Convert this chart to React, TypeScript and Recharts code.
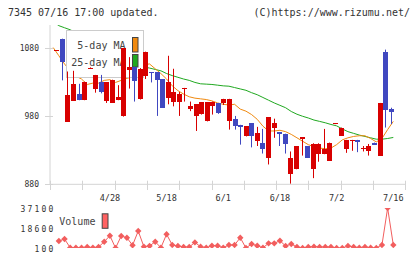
import React from 'react';
import { ComposedChart, Bar, Line, XAxis, YAxis, Legend } from 'recharts';

// Daily candles (61 sessions), oldest first
const opens = [1075, 1093, 972, 1002, 1012, 1003, 1049, 1020, 1030, 1001, 1000, 1003, 979, 1048, 1051, 1005, 1039, 1044, 1044, 1034, 1006, 1001, 1000, 1020, 989, 979, 982, 972, 995, 999, 999, 973, 976, 967, 950, 969, 944, 941, 918, 963, 956, 954, 894, 902, 946, 936, 902, 924, 924, 915, 968, 952, 932, 944, 945, 932, 928, 941, 922, 1074, 990];
const closes = [1076, 1060, 1011, 1027, 1003, 1030, 1050, 1040, 1015, 1029, 1033, 1008, 1079, 1052, 1031, 1049, 1074, 1042, 1032, 992, 1030, 1015, 1012, 1021, 994, 997, 1000, 1000, 1001, 985, 1005, 1005, 966, 964, 965, 950, 955, 932, 978, 970, 953, 940, 918, 936, 949, 919, 939, 939, 932, 941, 969, 963, 945, 945, 942, 933, 936, 938, 999, 989, 985];
const highs = [1076, 1093, 1045, 1046, 1027, 1030, 1051, 1040, 1040, 1029, 1033, 1025, 1079, 1066, 1052, 1050, 1074, 1044, 1044, 1034, 1068, 1049, 1015, 1021, 1001, 997, 1000, 1000, 1001, 999, 1005, 1005, 980, 967, 965, 969, 964, 961, 978, 976, 956, 954, 928, 936, 949, 936, 940, 940, 961, 941, 969, 963, 945, 945, 945, 936, 939, 941, 999, 1077, 992];
const lows = [1075, 1032, 972, 1002, 1003, 1003, 1049, 1014, 1013, 999, 999, 1003, 979, 1020, 1001, 1004, 1034, 1029, 980, 992, 997, 994, 980, 1001, 987, 958, 982, 972, 982, 983, 996, 960, 960, 938, 950, 934, 936, 925, 909, 948, 936, 925, 881, 902, 922, 919, 889, 913, 924, 915, 968, 952, 926, 929, 927, 928, 922, 938, 922, 963, 968];

// Moving averages
const ma5 = [1080, 1068, 1056, 1046, 1038, 1034, 1026, 1028, 1028, 1032, 1033, 1029, 1032, 1035, 1037, 1045, 1055, 1056, 1049, 1042, 1034, 1024, 1017, 1012, 1008, 1006, 1005, 1004, 1002, 999, 997, 996, 997, 990, 987, 982, 975, 965, 958, 958, 959, 957, 953, 948, 943, 938, 935, 933, 932, 933, 938, 945, 948, 950, 951, 951, 947, 942, 947, 960, 972];
const ma25 = [1118, 1112, 1109, 1106, 1102, 1098, 1094, 1090, 1086, 1081, 1076, 1071, 1066, 1061, 1057, 1054, 1051.5, 1050, 1048, 1046, 1042, 1039, 1036.5, 1034, 1032, 1029, 1027, 1026.5, 1026, 1025, 1024, 1023.5, 1021.5, 1019.5, 1017.5, 1014, 1011, 1007, 1003, 999, 995.5, 992, 986.5, 982.5, 979.5, 977, 974, 972, 970, 967.5, 965.5, 961, 957, 954.5, 952, 950, 948, 946, 946, 947, 948.5];

// Volume (shares)
const volume = [null, 6600, 8400, 400, 400, 400, 1000, 400, 1000, 5900, 11500, 100, 11200, 9650, 2600, 15800, 1300, 1950, 5900, 400, 12800, 2900, 1950, 1000, 1000, 5300, 1300, 400, 2200, 2200, 400, 2900, 2900, 9650, 100, 3800, 2200, 400, 4400, 4400, 6850, 1950, 3800, 1000, 100, 1000, 1300, 1000, 1000, 1000, 100, 100, 1950, 1000, 400, 1000, 400, 100, 2900, 37100, 2900];

// Axis labels
const tickDays = [10, 20, 30, 40, 50, 60];
const tickLabels = ['4/28', '5/18', '6/1', '6/18', '7/2', '7/16'];
const priceTicks = [880, 980, 1080];
const volumeTicks = [100, 18600, 37100];
// evenly spaced marks along the bottom frame of the price panel
const frameTicks = [0, 1, 2, 3, 4, 5, 6, 7, 8, 9, 10, 11];

const rows = opens.map((o, i) => ({
  i,
  open: o,
  close: closes[i],
  high: highs[i],
  low: lows[i],
  ma5: ma5[i],
  ma25: ma25[i],
  volume: volume[i],
}));
const frameRows = frameTicks.map((k) => ({ k }));

const W = 420;
const H = 259;
const FONT = '"DejaVu Sans Mono", "Liberation Mono", monospace';
const UP = '#d80000';
const DOWN = '#4048c0';
const MA5_C = '#f08a10';
const MA25_C = '#20a820';
const VOL_C = '#f25e5e';
const AXIS = '#d4d4d4';
const TEXT = '#333333';

// plot area of the price panel: x 50..405.3, y 25..184.3
const priceMargin = { top: 25, right: 14.7, bottom: 74.7, left: 0 };
const catPad = { left: 3.2, right: 12 };
const PRICE_DOMAIN: [number, number] = [880, 1113];

function Candle(props: any) {
  const { x, y, width, height, payload } = props;
  if (!payload || x == null || y == null) return <g />;
  const top = Math.min(y, y + height);
  const span = Math.abs(height);
  const range = payload.high - payload.low;
  const k = range > 0 ? span / range : 0;
  const py = (v: number) => top + (payload.high - v) * k;
  const color = payload.close >= payload.open ? UP : DOWN;
  const cx = Math.round(x + width / 2);
  const bTop = py(Math.max(payload.open, payload.close));
  const bBot = py(Math.min(payload.open, payload.close));
  return (
    <g>
      <line x1={cx + 0.5} x2={cx + 0.5} y1={top} y2={top + span} stroke={color} strokeWidth={1} />
      <rect
        x={cx - 2}
        y={Math.round(bTop)}
        width={5}
        height={Math.max(1, Math.round(bBot - bTop))}
        fill={color}
        shapeRendering="crispEdges"
      />
    </g>
  );
}

function DateTick(props: any) {
  const { x, y, payload } = props;
  const k = tickDays.indexOf(payload.value);
  return (
    <text x={x} y={y + 16.3} textAnchor="middle" fontFamily={FONT} fontSize={8.5} fill={TEXT}>
      {k >= 0 ? tickLabels[k] : ''}
    </text>
  );
}

function FrameTick(props: any) {
  const { x, y } = props;
  const px = Math.round(x) + 0.5;
  return <line x1={px} x2={px} y1={y - 3.6} y2={y + 5.7} stroke={AXIS} strokeWidth={1} />;
}

function PriceTick(props: any) {
  const { x, y, payload } = props;
  const py = Math.round(y) + 0.5;
  return (
    <g>
      <line x1={x - 5} x2={x + 3} y1={py} y2={py} stroke={AXIS} strokeWidth={1} />
      <text x={x - 11} y={y + 3} textAnchor="end" fontFamily={FONT} fontSize={8} fill={TEXT}>
        {payload.value}
      </text>
    </g>
  );
}

function VolTick(props: any) {
  const { x, y, payload } = props;
  return (
    <text
      x={x + 5.5}
      y={y + 3.8}
      textAnchor="end"
      fontFamily={FONT}
      fontSize={8}
      letterSpacing={2.2}
      fill={TEXT}
    >
      {payload.value}
    </text>
  );
}

function Diamond(props: any) {
  const { cx, cy, index } = props;
  if (cx == null || cy == null || !Number.isFinite(cx) || !Number.isFinite(cy) || volume[index] == null) {
    return <g key={`d${index}`} />;
  }
  const r = 3.2;
  return (
    <path
      key={`d${index}`}
      d={`M${cx},${cy - r}L${cx + r},${cy}L${cx},${cy + r}L${cx - r},${cy}Z`}
      fill={VOL_C}
    />
  );
}

function MaLegend(props: any) {
  const items: any[] = props.payload || [];
  const find = (name: string) => items.find((p) => p.value === name);
  const entries = [find('5-day MA'), find('25-day MA')];
  const rowsY = [19, 36];
  const sw = [
    { y: 7.5, h: 14.5 },
    { y: 24.5, h: 12.5 },
  ];
  return (
    <svg width={78} height={48} style={{ display: 'block' }}>
      <rect x={0.5} y={0.5} width={77} height={47} fill="#ffffff" stroke="#cccccc" />
      {entries.map((e, k) =>
        e ? (
          <g key={e.value}>
            <text x={59.5} y={rowsY[k]} textAnchor="end" fontFamily={FONT} fontSize={10} fill="#444">
              {e.value}
            </text>
            <rect x={66.5} y={sw[k].y} width={5.5} height={sw[k].h} fill={e.color} stroke="#444" />
          </g>
        ) : null
      )}
    </svg>
  );
}

function VolLegend(props: any) {
  const items: any[] = props.payload || [];
  const e = items[0];
  if (!e) return null;
  return (
    <svg width={60} height={22} style={{ display: 'block' }}>
      <text x={3.3} y={14} fontFamily={FONT} fontSize={10} fill="#444">
        {e.value}
      </text>
      <rect x={46.2} y={2.8} width={5.8} height={14.5} fill={'#ff6262'} stroke="#444" />
    </svg>
  );
}

export default function App() {
  return (
    <div style={{ position: 'absolute', left: 0, top: 0, width: W, height: H, background: '#fff' }}>
      {/* bottom frame of the price panel */}
      <div style={{ position: 'absolute', left: 0, top: 0 }}>
        <ComposedChart width={W} height={H} data={frameRows} margin={{ ...priceMargin, bottom: 73.7, left: 50 }}>
          <XAxis
            dataKey="k"
            type="number"
            domain={[0, 11]}
            ticks={frameTicks}
            interval={0}
            height={1}
            axisLine={{ stroke: AXIS }}
            tickLine={false}
            tickSize={0}
            tickMargin={0}
            tick={FrameTick}
          />
          <YAxis hide domain={[0, 1]} />
        </ComposedChart>
      </div>

      {/* price axis, date labels, moving averages and their legend */}
      <div style={{ position: 'absolute', left: 0, top: 0 }}>
        <ComposedChart width={W} height={H} data={rows} margin={{ ...priceMargin, bottom: 73.7 }} barCategoryGap={0}>
          <XAxis
            dataKey="i"
            type="category"
            padding={catPad}
            height={1}
            axisLine={false}
            tickLine={false}
            tickSize={0}
            tickMargin={0}
            ticks={tickDays}
            interval={0}
            tick={DateTick}
          />
          <YAxis
            domain={PRICE_DOMAIN}
            allowDataOverflow
            ticks={priceTicks}
            interval={0}
            width={50}
            axisLine={{ stroke: AXIS }}
            tickLine={false}
            tickSize={0}
            tickMargin={0}
            tick={PriceTick}
          />
          <Line
            dataKey="ma25"
            name="25-day MA"
            stroke={MA25_C}
            strokeWidth={1}
            dot={false}
            activeDot={false}
            isAnimationActive={false}
          />
          <Line
            dataKey="ma5"
            name="5-day MA"
            stroke={MA5_C}
            strokeWidth={1}
            dot={false}
            activeDot={false}
            isAnimationActive={false}
          />
          <Legend
            layout="horizontal"
            verticalAlign="middle"
            align="center"
            content={MaLegend}
            wrapperStyle={{ left: 65.5, top: 30, width: 78, height: 48 }}
          />
        </ComposedChart>
      </div>

      {/* candles */}
      <div style={{ position: 'absolute', left: 0, top: 0 }}>
        <ComposedChart width={W} height={H} data={rows} margin={{ ...priceMargin, left: 50 }} barCategoryGap={0}>
          <XAxis dataKey="i" type="category" padding={catPad} hide />
          <YAxis domain={PRICE_DOMAIN} allowDataOverflow hide />
          <Bar dataKey={(d: any) => [d.low, d.high]} shape={Candle} isAnimationActive={false} />
        </ComposedChart>
      </div>

      {/* volume */}
      <div style={{ position: 'absolute', left: 0, top: 185 }}>
        <ComposedChart width={W} height={74} data={rows} margin={{ top: 23, right: 14.7, bottom: 11, left: 0 }}>
          <XAxis dataKey="i" type="category" padding={catPad} hide />
          <YAxis
            domain={[100, 37100]}
            allowDataOverflow
            ticks={volumeTicks}
            interval={0}
            width={50}
            axisLine={false}
            tickLine={false}
            tickSize={0}
            tickMargin={0}
            tick={VolTick}
          />
          <Line
            dataKey="volume"
            name="Volume"
            stroke={VOL_C}
            strokeWidth={1}
            dot={Diamond}
            activeDot={false}
            isAnimationActive={false}
          />
          <Legend
            layout="horizontal"
            verticalAlign="middle"
            align="center"
            content={VolLegend}
            wrapperStyle={{ left: 56, top: 26, width: 60, height: 22 }}
          />
        </ComposedChart>
      </div>

      {/* header */}
      <svg width={W} height={22} style={{ position: 'absolute', left: 0, top: 0 }}>
        <text x={8} y={16} fontFamily={FONT} fontSize={10} fill={TEXT}>
          7345 07/16 17:00 updated.
        </text>
        <text x={410} y={16} textAnchor="end" fontFamily={FONT} fontSize={10} fill={TEXT}>
          (C)https://www.rizumu.net/
        </text>
      </svg>
    </div>
  );
}
